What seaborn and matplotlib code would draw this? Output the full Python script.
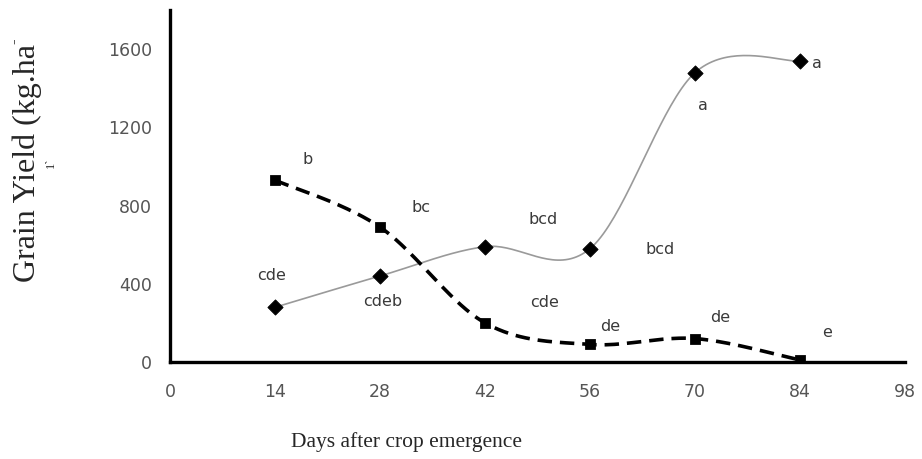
import numpy as np
import pandas as pd
import matplotlib
matplotlib.use("Agg")
import matplotlib.pyplot as plt
import seaborn as sns

# data
days = [14, 28, 42, 56, 70, 84]
yield_solid = [280, 440, 590, 580, 1480, 1540]
yield_dashed = [930, 690, 200, 90, 120, 10]
letters_solid = ["cde", "cdeb", "bcd", "bcd", "a", "a"]
letters_dashed = ["b", "bc", "cde", "de", "de", "e"]
# label positions (in data units) as they sit in the figure
pos_solid = [(13.6, 440), (28.3, 308), (49.7, 728), (65.3, 574), (71.0, 1313), (86.2, 1528)]
pos_dashed = [(18.3, 1036), (33.5, 790), (50.0, 302), (58.7, 180), (73.4, 226), (87.6, 149)]
xticks = [0, 14, 28, 42, 56, 70, 84, 98]
yticks = [0, 400, 800, 1200, 1600]


def smooth(x, y, n=40):
    # excel-like smoothed line (catmull-rom through the points)
    p = np.column_stack([x, y]).astype(float)
    p = np.vstack([p[0], p, p[-1]])
    out = []
    for i in range(1, len(p) - 2):
        p0, p1, p2, p3 = p[i - 1], p[i], p[i + 1], p[i + 2]
        c1 = p1 + (p2 - p0) / 6
        c2 = p2 - (p3 - p1) / 6
        t = np.linspace(0, 1, n)[:, None]
        seg = ((1 - t) ** 3 * p1 + 3 * (1 - t) ** 2 * t * c1
               + 3 * (1 - t) * t ** 2 * c2 + t ** 3 * p2)
        out.append(seg if i == 1 else seg[1:])
    s = np.vstack(out)
    return pd.DataFrame({"x": s[:, 0], "y": s[:, 1]})


sns.set_style("white")
fig = plt.figure(figsize=(9.22, 4.59), dpi=100)
ax = fig.add_axes([0.1844, 0.2113, 0.7972, 0.7667])

s1 = smooth(days, yield_solid)
s2 = smooth(days, yield_dashed)
sns.lineplot(data=s1, x="x", y="y", sort=False, estimator=None, ax=ax,
             color="#9a9a9a", linewidth=1.2)
sns.lineplot(data=s2, x="x", y="y", sort=False, estimator=None, ax=ax,
             color="black", linewidth=2.6, dashes=False)
ax.lines[-1].set_dashes([4, 2.2])

pts = pd.DataFrame({"days": days, "solid": yield_solid, "dashed": yield_dashed})
sns.scatterplot(data=pts, x="days", y="solid", marker="D", s=60, color="black",
                edgecolor="black", ax=ax, zorder=5)
sns.scatterplot(data=pts, x="days", y="dashed", marker="s", s=50, color="black",
                edgecolor="black", ax=ax, zorder=5)

for (x, y), t in zip(pos_solid + pos_dashed, letters_solid + letters_dashed):
    ax.text(x, y, t, ha="center", va="center", fontsize=11.5,
            family="DejaVu Sans", color="#3a3a3a")

ax.set_xlim(0, 98)
ax.set_ylim(0, 1800)
ax.set_xticks(xticks)
ax.set_yticks(yticks)
ax.tick_params(axis="both", direction="out", length=3, width=1.5, color="black",
               labelcolor="#555555", labelsize=12.5)
ax.tick_params(axis="y", pad=10)
ax.tick_params(axis="x", pad=12)
for lab in ax.get_xticklabels() + ax.get_yticklabels():
    lab.set_family("DejaVu Sans")

sns.despine(ax=ax)
for sp in ["left", "bottom"]:
    ax.spines[sp].set_linewidth(2.4)
    ax.spines[sp].set_color("black")

ax.set_xlabel("")
ax.set_ylabel("")
fig.text(0.441, 0.037, "Days after crop emergence", ha="center", va="center",
         family="Liberation Serif", fontsize=15.5)
fig.text(0.030, 0.645, "Grain Yield (kg.ha", rotation=90, ha="center",
         va="center", family="Liberation Serif", fontsize=23)
fig.text(0.016, 0.91, "-", rotation=90, ha="center", va="center",
         family="Liberation Serif", fontsize=12)
fig.text(0.055, 0.645, "1`", rotation=90, ha="center", va="center",
         family="Liberation Serif", fontsize=9)

fig.savefig("out.png", dpi=100)
